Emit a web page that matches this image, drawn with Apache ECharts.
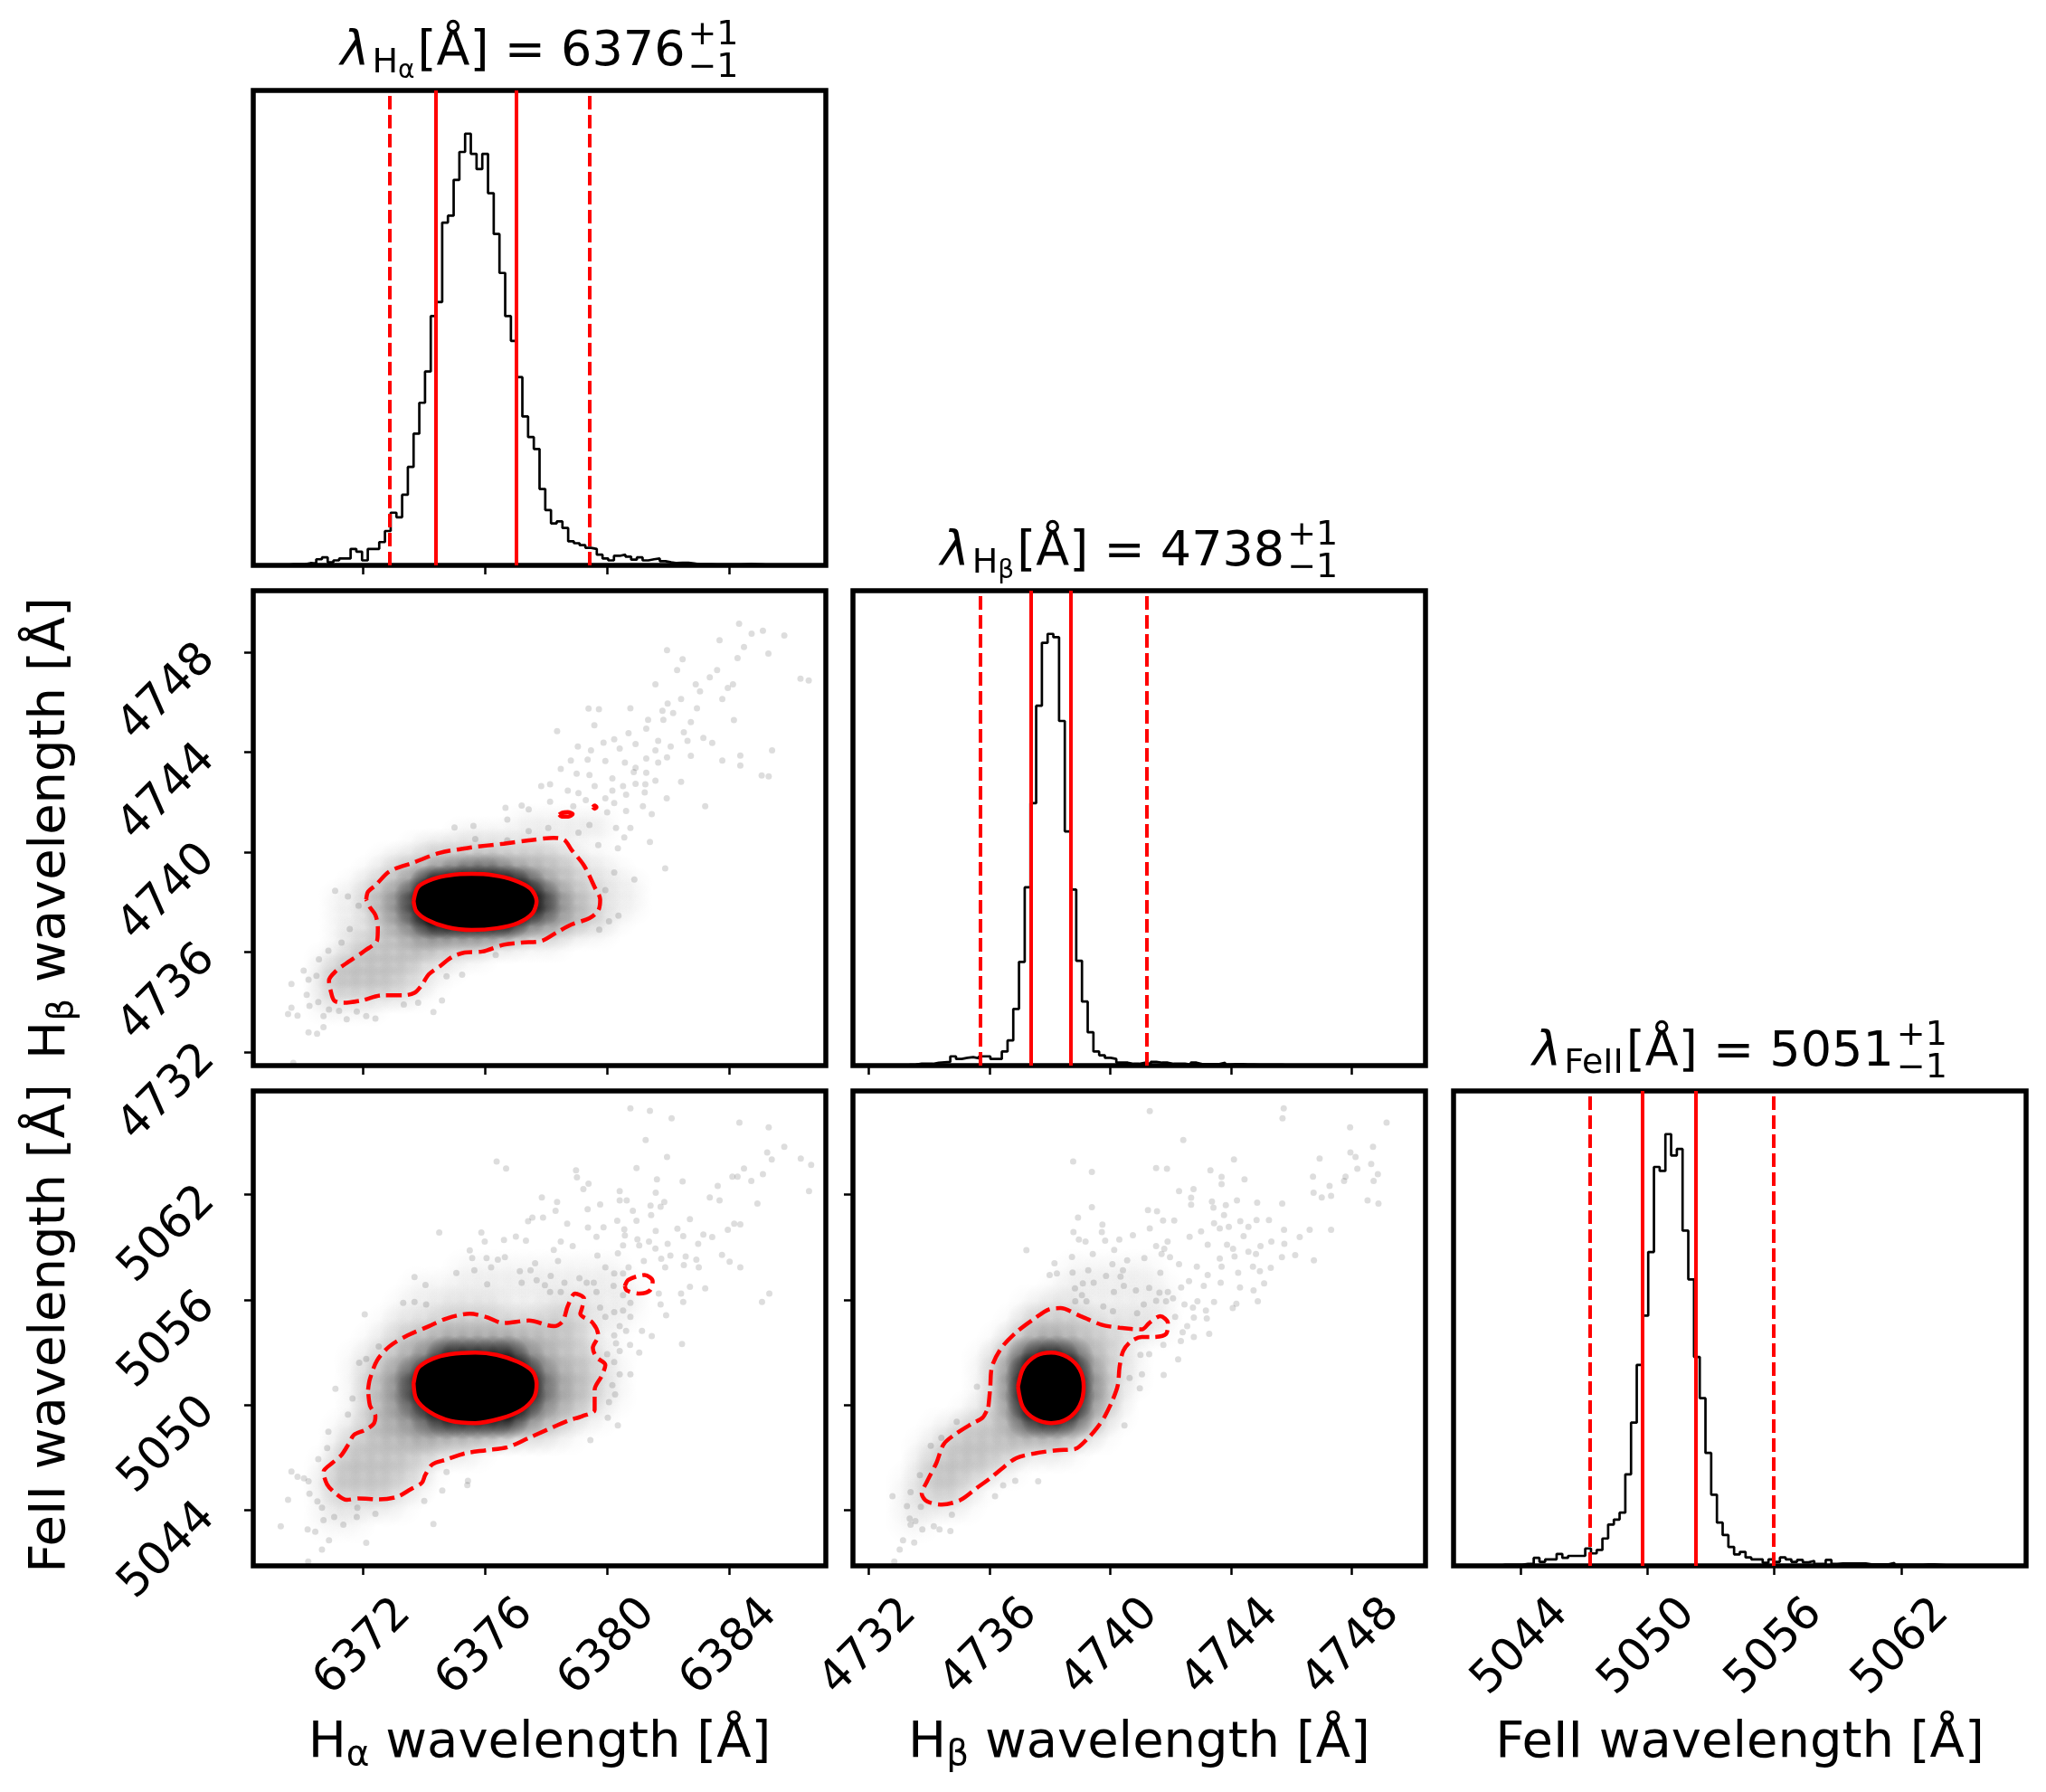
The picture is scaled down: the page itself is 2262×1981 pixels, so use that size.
<!DOCTYPE html>
<html>
<head>
<meta charset="utf-8">
<title>corner plot</title>
<script src="https://cdn.jsdelivr.net/npm/echarts@6.0.0/dist/echarts.min.js"></script>
<style>
  html, body { margin: 0; padding: 0; background: #fff; }
  #chart { width: 2262px; height: 1981px; }
</style>
</head>
<body>
<div id="chart"></div>
<script>
// axis ranges (min / max of the samples) and tick values
const haRange = [6368.4, 6387.15];
const hbRange = [4731.47, 4750.45];
const feRange = [5040.83, 5067.9];
const haTicks = [6372, 6376, 6380, 6384];
const hbTicks = [4732, 4736, 4740, 4744, 4748];
const feTicks = [5044, 5050, 5056, 5062];

// 1D histograms, 100 bins over the axis range
const haHist = [0,0,0,1,1,1,3,3,3,6, 5,16,21,8,13,18,18,43,36,13, 43,43,61,90,138,126,185,258,345,426,
  508,653,690,898,916,1010,1083,1131,1078,1038, 1078,975,868,766,653,588,493,390,336,305,
  200,145,110,115,98,63,58,53,46,43, 28,18,13,25,28,23,15,21,13,16, 18,11,8,6,7,7,5,3,3,3,
  2,2,2,2,2,3,4,3,2,1, 1,1,0,0,0,0,0,0,0,0];
const hbHist = [0,0,0,0,0,0,0,0,0,2, 3,5,5,5,8,9,10,25,18,21, 23,20,25,25,18,18,38,68,153,280,
  481,708,971,1141,1165,1156,930,632,475,283, 173,90,38,28,21,18,8,8,5,5,
  8,5,10,8,8,5,5,5,3,8, 4,4,4,4,8,3,4,4,3,3, 2,2,2,2,2,1,1,1,0,0,
  0,0,0,0,0,0,0,0,0,0, 0,0,0,0,0,0,0,0,0,0];
const feHist = [0,0,0,0,0,0,0,0,2,2, 2,2,4,4,16,8,13,13,24,16, 20,20,20,35,25,32,55,83,93,107,
  184,288,404,503,631,802,794,868,825,838, 674,576,420,337,227,143,87,62,38,23,
  28,17,13,13,6,13,8,17,13,8, 12,7,10,4,4,12,4,5,5,5, 5,5,3,3,3,3,6,2,2,2,
  2,2,3,3,2,1,1,1,0,0, 0,0,0,0,0,0,0,0,0,0];

// quantile lines: outer dashed, inner solid
const haQuant = [6372.88, 6374.39, 6377.0, 6379.4];
const hbQuant = [4735.69, 4737.38, 4738.70, 4741.20];
const feQuant = [5047.29, 5049.76, 5052.30, 5055.95];
const quantDashed = [true, false, false, true];

// title values
const haTitle = ['6376', '+1', '\u22121'];
const hbTitle = ['4738', '+1', '\u22121'];
const feTitle = ['5051', '+1', '\u22121'];

// density of samples, level 0-9 per cell (cell centres below)
const haCells = [6370.75,6371.25,6371.75,6372.25,6372.75,6373.25,6373.75,6374.25,6374.75,6375.25,6375.75,
  6376.25,6376.75,6377.25,6377.75,6378.25,6378.75,6379.25,6379.75,6380.25,6380.75];
const hbCells = [4733.25,4733.75,4734.25,4734.75,4735.25,4735.75,4736.25,4736.75,4737.25,4737.75,4738.25,
  4738.75,4739.25,4739.75,4740.25,4740.75,4741.25,4741.75];
const hbRows = [4741.25,4740.75,4740.25,4739.75,4739.25,4738.75,4738.25,4737.75,4737.25,4736.75,4736.25,
  4735.75,4735.25,4734.75,4734.25,4733.75];
const feRows = [5057.5,5056.5,5055.5,5054.5,5053.5,5052.5,5051.5,5050.5,5049.5,5048.5,5047.5,5046.5,5045.5,5044.5,5043.5];

const haHbDens = [
  "000000000000011111100",
  "000000000111111111100",
  "000000122222222110000",
  "000012233344333321100",
  "000123456777654332110",
  "001234699999986432211",
  "011346899999998643211",
  "011346899999998643211",
  "011245799999976543210",
  "012234566666543321100",
  "012333443332211100000",
  "123333322110000000000",
  "233333211000000000000",
  "233332210000000000000",
  "222222100000000000000",
  "111100000000000000000"
];
const haFeDens = [
  "000000000111111111110",
  "000000111111111111111",
  "000001112222111222111",
  "000012233333333332110",
  "000123445555544332100",
  "001234579999975433210",
  "001346899999997543210",
  "001346899999997543210",
  "001345689999975432100",
  "012344555555433210000",
  "023333332210000000000",
  "133333210000000000000",
  "233332200000000000000",
  "122221000000000000000",
  "111000000000000000000"
];
const hbFeDens = [
  "000000000001111110",
  "000000000011111111",
  "000000001222111111",
  "000000013333322221",
  "000000134554332100",
  "000001358998532100",
  "000001369999642100",
  "000001369999642000",
  "000012358998531000",
  "001233345554310000",
  "012333332221000000",
  "023333210000000000",
  "123321000000000000",
  "122210000000000000",
  "110000000000000000"
];

// isolated samples outside the dense core
const haHbDots = [[6384.31,4749.13],[6384.72,4748.73],[6385.09,4748.85],[6385.79,4748.66],[6383.67,4748.47],[6385.27,4747.94],
  [6381.95,4748.07],[6382.46,4747.71],[6384.47,4748.2],[6384.26,4747.76],[6383.59,4747.28],[6382.28,4747.28],[6383.35,4746.99],
  [6386.32,4746.93],[6386.59,4746.86],[6384.11,4746.71],[6383.94,4746.56],[6381.57,4746.71],[6382.89,4746.71],[6383.03,4746.43],
  [6382.41,4746.12],[6383.76,4746.12],[6381.97,4745.94],[6381.8,4745.65],[6382.15,4745.56],[6382.93,4745.75],[6379.38,4745.74],
  [6379.72,4745.71],[6380.75,4745.75],[6381.33,4745.29],[6381.83,4745.29],[6382.73,4745.2],[6384.14,4745.28],[6379.57,4745.07],
  [6380.69,4744.76],[6381.27,4744.94],[6381.66,4744.45],[6382.07,4744.22],[6382.5,4744.79],[6382.62,4744.45],[6383.14,4744.57],
  [6383.43,4744.37],[6378.35,4744.84],[6380.22,4744.51],[6379.87,4744.38],[6380.92,4744.32],[6379.03,4744.22],[6379.46,4744.07],
  [6380.4,4744.14],[6381.57,4744.07],[6381.95,4743.79],[6382.73,4743.85],[6383.76,4743.66],[6384.35,4743.86],[6384.35,4743.46],
  [6385.39,4744.07],[6385.05,4743.07],[6385.28,4743.03],[6378.8,4743.66],[6379.35,4743.7],[6379.93,4743.64],[6380.57,4743.58],
  [6380.92,4743.37],[6381.27,4743.74],[6381.66,4743.58],[6381.27,4743.17],[6381.57,4742.86],[6378.47,4743.33],[6378.99,4743.14],
  [6379.41,4743.08],[6380.16,4742.95],[6380.51,4742.64],[6380.86,4743.2],[6380.92,4742.73],[6381.24,4742.71],[6381.22,4742.39],
  [6378.12,4742.71],[6377.83,4742.64],[6378.7,4742.46],[6379.05,4742.36],[6379.58,4742.64],[6380.16,4742.46],[6380.61,4742.3],
  [6381.94,4742.15],[6382.41,4742.81],[6383.2,4741.84],[6377.42,4741.71],[6377.19,4741.86],[6376.66,4741.77],[6376.72,4741.3],
  [6378.12,4742.02],[6378.88,4741.84],[6379.29,4742.08],[6379.93,4742.15],[6380.22,4741.96],[6379.99,4741.59],[6380.61,4741.65],
  [6381.16,4741.84],[6381.45,4741.52],[6380.75,4740.97],[6380.28,4740.97],[6380.55,4740.59],[6381.39,4740.41],[6380.34,4740.16],
  [6379.7,4740.28],[6379.05,4740.78],[6379.41,4741.09],[6378.06,4740.97],[6377.42,4740.84],[6376.72,4740.47],[6375.61,4741.05],
  [6374.99,4740.99],[6375.67,4740.53],[6381.89,4739.35],[6380.88,4738.91],[6380.22,4739.19],[6379.93,4738.48],[6380.36,4737.46],
  [6380.05,4737.24],[6379.73,4736.9],[6371.08,4738.46],[6371.5,4738.23],[6371.85,4737.86],[6371.56,4736.93],[6371.29,4736.39],
  [6370.86,4736.06],[6370.55,4735.72],[6370.05,4735.27],[6370.47,4735.06],[6370.21,4734.9],[6369.65,4734.73],[6370.15,4734.3],
  [6370.53,4734.01],[6370.24,4733.86],[6369.65,4733.78],[6369.54,4733.53],[6369.85,4733.47],[6370.7,4733.45],[6370.88,4733.71],
  [6371.21,4733.66],[6371.46,4733.32],[6371.79,4733.63],[6372.1,4733.45],[6372.4,4733.35],[6370.7,4733.01],[6370.49,4732.74],
  [6370.21,4732.8],[6369.71,4731.58],[6374.3,4733.61],[6374.58,4734.07],[6373.8,4733.98],[6373.33,4733.91],[6374.73,4735.04],
  [6375.24,4735.1],[6376.34,4735.89]];

const haFeDots = [[6380.75,5066.91],[6381.39,5066.77],[6382.1,5066.34],[6384.32,5066.1],[6385.28,5065.83],[6381.25,5065.1],
  [6385.79,5064.72],[6385.23,5064.4],[6381.95,5064.13],[6385.38,5063.99],[6386.33,5064.04],[6386.67,5063.69],[6376.37,5063.88],
  [6376.68,5063.48],[6378.97,5063.37],[6379.0,5062.98],[6380.95,5063.51],[6384.47,5063.48],[6381.62,5062.86],[6384.09,5063.02],
  [6384.26,5063.02],[6385.09,5063.16],[6382.46,5062.75],[6384.71,5062.77],[6383.61,5062.49],[6379.38,5062.61],[6379.21,5062.31],
  [6386.6,5062.19],[6380.4,5062.19],[6381.58,5062.1],[6377.85,5061.83],[6378.35,5061.57],[6379.76,5061.43],[6379.35,5061.16],
  [6380.4,5061.66],[6380.63,5061.66],[6381.41,5061.37],[6381.86,5061.57],[6381.74,5061.3],[6383.35,5061.83],[6383.67,5061.66],
  [6384.91,5061.48],[6378.3,5061.07],[6377.54,5060.68],[6377.4,5060.47],[6377.89,5060.68],[6378.68,5060.33],[6379.36,5060.12],
  [6379.87,5060.13],[6380.32,5060.5],[6380.83,5061.07],[6380.95,5060.5],[6381.43,5060.82],[6382.7,5060.59],[6384.15,5060.33],
  [6384.35,5060.29],[6383.94,5059.98],[6382.29,5060.05],[6381.58,5059.92],[6380.55,5060.01],[6374.49,5059.83],[6375.87,5059.83],
  [6375.98,5059.32],[6376.61,5059.41],[6377.0,5059.6],[6377.33,5059.37],[6378.47,5059.32],[6378.86,5059.06],[6379.64,5059.59],
  [6380.57,5059.66],[6380.98,5059.44],[6382.48,5059.62],[6383.14,5059.71],[6383.43,5059.57],[6381.36,5059.32],[6381.04,5059.09],
  [6381.57,5058.91],[6381.97,5059.18],[6382.97,5059.18],[6383.75,5058.56],[6384.0,5058.17],[6384.35,5057.84],[6382.91,5058.29],
  [6382.56,5058.47],[6382.06,5058.51],[6378.24,5058.84],[6375.49,5058.81],[6375.57,5058.38],[6376.04,5058.38],[6376.41,5058.29],
  [6376.64,5058.42],[6377.63,5058.08],[6378.38,5058.21],[6379.67,5058.51],[6380.34,5058.65],[6380.51,5059.09],[6381.19,5058.21],
  [6381.76,5058.33],[6381.89,5057.85],[6380.69,5057.85],[6379.93,5057.85],[6382.5,5057.98],[6382.99,5057.85],[6385.3,5056.35],
  [6385.06,5055.87],[6383.2,5056.65],[6382.7,5056.74],[6382.41,5056.35],[6381.68,5056.35],[6381.92,5055.11],[6381.74,5055.73],
  [6382.48,5055.87],[6381.45,5053.93],[6382.44,5053.47],[6375.05,5057.52],[6375.64,5057.68],[6376.19,5057.85],[6377.13,5057.62],
  [6377.48,5057.68],[6378.14,5057.36],[6378.59,5056.97],[6379.08,5057.23],[6379.32,5056.97],[6379.55,5056.97],[6373.68,5057.29],
  [6374.04,5056.84],[6376.06,5056.88],[6377.19,5056.97],[6377.68,5057.11],[6377.95,5056.83],[6378.12,5056.44],[6378.47,5056.44],
  [6379.64,5056.44],[6380.22,5057.5],[6380.51,5057.5],[6380.2,5056.79],[6380.51,5056.26],[6380.75,5055.82],[6379.76,5055.55],
  [6379.93,5055.02],[6380.22,5055.29],[6380.51,5055.38],[6380.75,5055.02],[6380.4,5054.49],[6380.61,5054.22],[6381.13,5054.22],
  [6380.22,5053.96],[6380.28,5053.52],[6380.74,5053.43],[6379.99,5052.9],[6380.4,5053.08],[6381.04,5052.99],[6380.22,5052.45],
  [6380.4,5051.75],[6380.75,5051.75],[6380.16,5051.13],[6380.25,5050.6],[6380.05,5050.16],[6380.01,5049.27],[6380.34,5048.83],
  [6379.44,5048.0],[6373.31,5055.82],[6373.68,5055.87],[6374.06,5055.73],[6372.05,5055.16],[6372.51,5053.34],[6371.87,5052.4],
  [6372.1,5052.63],[6371.09,5050.92],[6371.65,5050.37],[6371.5,5049.45],[6370.86,5048.48],[6370.82,5047.54],[6370.53,5046.92],
  [6369.65,5046.21],[6369.85,5045.91],[6370.06,5045.82],[6370.21,5045.65],[6370.24,5044.94],[6370.5,5044.5],[6370.65,5044.14],
  [6369.54,5044.59],[6369.3,5043.08],[6370.18,5042.91],[6370.43,5042.78],[6370.7,5043.44],[6371.05,5043.61],[6371.35,5043.17],
  [6371.79,5043.61],[6371.81,5044.14],[6372.4,5043.79],[6370.65,5041.76],[6370.88,5042.29],[6372.1,5042.14],[6370.2,5041.08],
  [6374.3,5043.21],[6374.0,5044.53],[6374.59,5045.12],[6375.43,5045.68],[6375.41,5045.43],[6374.73,5046.18]];

const hbFeDots = [[4741.31,5066.75],[4745.75,5066.91],[4745.71,5066.34],[4749.16,5066.1],[4747.95,5065.83],[4742.42,5065.1],
  [4748.71,5064.72],[4747.96,5064.4],[4748.13,5064.13],[4746.94,5064.04],[4738.77,5063.88],[4741.52,5063.51],[4741.88,5063.46],
  [4744.1,5063.99],[4739.39,5063.28],[4743.32,5063.37],[4743.69,5063.0],[4744.45,5062.86],[4743.69,5062.59],[4748.65,5063.73],
  [4748.19,5063.46],[4748.87,5063.16],[4748.73,5062.77],[4747.8,5063.02],[4747.75,5062.77],[4747.27,5062.49],[4746.72,5063.02],
  [4746.74,5062.1],[4747.01,5061.83],[4747.32,5061.92],[4742.28,5062.19],[4742.76,5062.31],[4742.68,5061.81],[4742.68,5061.41],
  [4743.37,5061.6],[4743.83,5061.39],[4743.77,5060.82],[4744.2,5061.66],[4744.87,5061.53],[4745.7,5061.48],[4748.53,5061.66],
  [4748.89,5061.48],[4739.39,5061.27],[4738.93,5060.68],[4741.25,5061.11],[4741.55,5061.04],[4741.75,5060.51],[4742.12,5060.51],
  [4743.42,5061.25],[4743.44,5060.36],[4743.63,5060.06],[4743.93,5060.15],[4744.31,5060.47],[4744.58,5060.15],[4744.85,5060.54],
  [4745.26,5060.54],[4745.76,5059.98],[4747.32,5059.98],[4746.28,5059.57],[4746.61,5059.98],[4739.74,5060.28],[4739.72,5059.85],
  [4740.75,5059.67],[4741.31,5060.06],[4738.78,5059.85],[4738.96,5059.43],[4739.18,5059.32],[4739.83,5059.37],[4740.3,5059.43],
  [4741.9,5059.32],[4742.63,5059.59],[4743.01,5059.89],[4743.23,5059.13],[4743.87,5059.13],[4744.07,5058.9],[4744.42,5059.62],
  [4744.58,5058.74],[4744.98,5059.06],[4745.34,5059.32],[4745.77,5059.18],[4746.13,5058.54],[4746.75,5058.24],[4745.69,5058.42],
  [4737.22,5058.82],[4740.13,5058.84],[4741.52,5059.06],[4741.79,5058.9],[4741.7,5058.6],[4741.98,5058.42],[4741.13,5058.37],
  [4740.56,5058.24],[4740.07,5058.03],[4738.73,5058.44],[4739.42,5058.61],[4738.15,5058.08],[4738.23,5057.5],[4737.99,5057.41],
  [4738.75,5057.55],[4739.27,5057.68],[4739.86,5057.36],[4740.42,5057.68],[4740.34,5057.32],[4741.66,5057.53],[4742.28,5058.03],
  [4742.87,5057.89],[4743.23,5057.41],[4743.63,5058.35],[4744.12,5058.47],[4743.69,5057.89],[4744.24,5057.53],[4744.73,5057.89],
  [4744.96,5057.62],[4745.32,5057.82],[4744.83,5058.61],[4739.09,5056.93],[4739.45,5056.97],[4738.83,5056.65],[4739.06,5056.26],
  [4738.84,5055.91],[4739.21,5055.91],[4740.45,5056.79],[4740.12,5056.44],[4740.85,5056.53],[4741.29,5056.67],[4741.63,5056.4],
  [4741.91,5056.44],[4742.35,5056.7],[4742.61,5057.06],[4743.1,5056.79],[4743.66,5056.97],[4744.3,5056.7],[4744.75,5056.53],
  [4745.1,5056.93],[4744.89,5055.91],[4744.18,5055.77],[4744.06,5055.52],[4743.17,5055.38],[4743.44,5055.87],[4742.89,5055.91],
  [4742.74,5055.55],[4742.46,5055.73],[4742.08,5056.08],[4741.85,5055.91],[4741.52,5055.94],[4741.11,5055.73],[4740.89,5055.23],
  [4740.09,5055.34],[4739.77,5055.62],[4742.15,5055.02],[4742.77,5054.99],[4743.2,5054.93],[4742.55,5054.49],[4742.4,5054.14],
  [4742.77,5053.87],[4743.28,5054.05],[4742.34,5053.64],[4741.76,5053.43],[4741.29,5052.9],[4741.0,5052.86],[4742.25,5052.6],
  [4740.64,5051.54],[4741.05,5051.75],[4741.77,5051.71],[4740.98,5050.95],[4740.47,5048.83],[4735.58,5051.04],[4734.91,5049.04],
  [4734.4,5048.12],[4734.05,5047.68],[4733.69,5046.0],[4733.38,5045.03],[4732.78,5044.8],[4733.26,5044.23],[4733.72,5044.2],
  [4733.35,5043.53],[4733.54,5043.38],[4733.38,5043.17],[4733.77,5042.91],[4734.15,5043.08],[4734.34,5042.91],[4734.7,5042.82],
  [4734.75,5043.74],[4733.13,5042.29],[4733.5,5042.16],[4733.02,5041.76],[4732.84,5041.08],[4736.18,5044.8],[4736.45,5045.42],
  [4736.85,5045.68],[4737.61,5045.65]];

// contour levels
const haHbInner = [[6373.65,4738.05],[6373.8,4738.61],[6374.27,4738.92],[6374.85,4739.08],[6375.55,4739.13],[6376.25,4739.08],
  [6376.95,4738.88],[6377.48,4738.54],[6377.68,4738.05],[6377.54,4737.55],[6377.07,4737.17],[6376.37,4736.96],[6375.55,4736.89],
  [6374.73,4737.01],[6374.09,4737.3],[6373.74,4737.64],[6373.65,4738.05]];
const haHbOuter = [[6372.1,4738.11],[6372.16,4738.42],[6372.4,4738.67],[6372.86,4739.23],[6373.68,4739.6],[6374.5,4739.97],
  [6375.55,4740.19],[6376.6,4740.34],[6377.42,4740.47],[6378.24,4740.57],[6378.59,4740.49],[6378.82,4740.1],[6379.23,4739.47],
  [6379.58,4738.6],[6379.76,4738.11],[6379.7,4737.67],[6379.41,4737.36],[6378.82,4737.11],[6378.35,4736.8],[6377.83,4736.45],
  [6377.19,4736.39],[6376.6,4736.3],[6375.9,4736.03],[6375.32,4735.99],[6374.91,4735.81],[6374.5,4735.43],[6374.15,4735.12],
  [6373.92,4734.69],[6373.68,4734.38],[6373.33,4734.28],[6372.63,4734.28],[6371.93,4734.07],[6371.35,4733.98],[6371.05,4734.07],
  [6370.94,4734.44],[6370.88,4734.87],[6371.11,4735.25],[6371.52,4735.62],[6372.05,4736.06],[6372.46,4736.49],[6372.48,4736.99],
  [6372.4,4737.49],[6372.22,4737.8],[6372.1,4738.11]];
const haHbIsle1 = [[6378.42,4741.5],[6378.52,4741.58],[6378.7,4741.6],[6378.86,4741.52],[6378.72,4741.42],[6378.5,4741.42],[6378.42,4741.5]];
const haHbIsle2 = [[6379.52,4741.8],[6379.58,4741.86],[6379.64,4741.8],[6379.58,4741.74],[6379.52,4741.8]];

const haFeInner = [[6373.65,5051.22],[6373.8,5052.1],[6374.27,5052.63],[6374.85,5052.9],[6375.67,5052.99],[6376.37,5052.86],
  [6377.07,5052.46],[6377.54,5051.93],[6377.68,5051.22],[6377.59,5050.42],[6377.19,5049.72],[6376.48,5049.22],[6375.67,5048.97],
  [6374.85,5049.1],[6374.15,5049.63],[6373.74,5050.34],[6373.65,5051.22]];
const haFeOuter = [[6372.16,5050.87],[6372.22,5051.48],[6372.46,5052.55],[6372.86,5053.34],[6373.45,5053.96],[6374.15,5054.49],
  [6374.73,5054.93],[6375.49,5055.2],[6376.02,5055.02],[6376.6,5054.67],[6377.42,5054.81],[6378.24,5054.49],[6378.53,5054.76],
  [6378.7,5055.64],[6378.94,5056.35],[6379.23,5056.08],[6379.17,5055.55],[6379.11,5055.2],[6379.52,5054.67],[6379.7,5053.96],
  [6379.52,5053.25],[6379.64,5052.72],[6379.93,5052.28],[6379.81,5051.66],[6379.58,5050.87],[6379.58,5049.72],[6379.17,5049.36],
  [6378.7,5049.1],[6378.0,5048.57],[6377.42,5048.12],[6376.72,5047.59],[6376.02,5047.42],[6375.32,5047.24],[6374.73,5046.89],
  [6374.27,5046.62],[6374.03,5046.0],[6373.92,5045.56],[6373.56,5045.2],[6373.1,5044.76],[6372.51,5044.62],[6371.87,5044.67],
  [6371.46,5044.59],[6371.11,5044.94],[6370.82,5045.47],[6370.7,5046.18],[6371.0,5046.71],[6371.29,5047.15],[6371.52,5047.77],
  [6371.7,5048.3],[6372.05,5048.57],[6372.34,5048.92],[6372.4,5049.36],[6372.22,5049.98],[6372.16,5050.87]];
const haFeIsle = [[6380.57,5056.79],[6380.69,5057.14],[6381.22,5057.41],[6381.48,5057.06],[6381.39,5056.53],[6381.04,5056.35],
  [6380.63,5056.53],[6380.57,5056.79]];

const hbFeInner = [[4736.94,5051.04],[4737.12,5052.1],[4737.55,5052.81],[4738.04,5052.99],[4738.59,5052.72],[4738.99,5052.02],
  [4739.12,5051.04],[4738.99,5049.98],[4738.59,5049.22],[4738.04,5048.97],[4737.49,5049.22],[4737.1,5049.89],[4736.94,5051.04]];
const hbFeOuter = [[4735.96,5049.89],[4736.02,5050.95],[4736.08,5052.19],[4736.39,5053.25],[4736.88,5054.14],[4737.49,5054.93],
  [4737.98,5055.46],[4738.35,5055.52],[4738.96,5055.11],[4739.7,5054.58],[4740.31,5054.4],[4741.05,5054.31],[4741.29,5054.67],
  [4741.66,5055.06],[4741.91,5054.67],[4741.85,5054.05],[4741.42,5053.87],[4741.05,5053.87],[4740.68,5053.61],[4740.43,5053.08],
  [4740.31,5052.19],[4740.25,5051.13],[4740.07,5050.25],[4739.82,5049.36],[4739.58,5048.74],[4739.27,5048.12],[4738.84,5047.5],
  [4738.23,5047.42],[4737.49,5047.24],[4736.88,5046.97],[4736.39,5046.35],[4736.02,5045.82],[4735.59,5045.29],[4735.04,5044.59],
  [4734.42,5044.32],[4733.93,5044.5],[4733.75,5044.94],[4733.93,5045.65],[4734.24,5046.71],[4734.48,5047.77],[4734.91,5048.39],
  [4735.4,5048.92],[4735.77,5049.28],[4735.96,5049.89]];

// layout
const colLeft = [280, 943, 1607];
const rowTop = [100, 653, 1206];
const cellW = 633, cellH = 525;
const panels = [[0, 0], [1, 0], [1, 1], [2, 0], [2, 1], [2, 2]]; // [row, col]
const font = 'DejaVu Sans';
const red = '#ff0000';
const dash = [15, 6];
// peak alpha of one soft blob per density level
const blobPeak = [0, 0.03, 0.065, 0.11, 0.15, 0.21, 0.29, 0.42, 0.62, 0.9];
const blobFill = { type: 'radial', x: 0.5, y: 0.5, r: 0.5, colorStops: [
  { offset: 0, color: 'rgba(0,0,0,1)' }, { offset: 0.5, color: 'rgba(0,0,0,0.5)' }, { offset: 1, color: 'rgba(0,0,0,0)' }] };

const grids = panels.map(([r, c]) => ({
  left: colLeft[c], top: rowTop[r], width: cellW, height: cellH,
  show: true, borderColor: '#000', borderWidth: 5.5, backgroundColor: 'transparent',
  outerBoundsMode: 'none'
}));

function valueAxis(idx, range, ticks, labels, isY) {
  const label = { show: labels, customValues: ticks, rotate: 45, fontSize: 50, fontFamily: font, color: '#000',
    formatter: v => String(v) };
  if (isY) label.margin = 50;
  else Object.assign(label, { align: 'center', verticalAlign: 'middle', margin: 90 });
  return {
    type: 'value', gridIndex: idx, min: range[0], max: range[1],
    axisLine: { show: false, onZero: false },
    splitLine: { show: false },
    axisTick: { show: true, customValues: ticks, length: 10, lineStyle: { color: '#000', width: 2.5 } },
    axisLabel: label
  };
}
function countAxis(idx) {
  return { type: 'value', gridIndex: idx, min: 0, max: v => v.max * 1.1, show: false, splitLine: { show: false } };
}

const xAxes = [
  valueAxis(0, haRange, haTicks, false),
  valueAxis(1, haRange, haTicks, false),
  valueAxis(2, hbRange, hbTicks, false),
  valueAxis(3, haRange, haTicks, true),
  valueAxis(4, hbRange, hbTicks, true),
  valueAxis(5, feRange, feTicks, true)
];
const yAxes = [
  countAxis(0),
  valueAxis(1, hbRange, hbTicks, true, true),
  countAxis(2),
  valueAxis(3, feRange, feTicks, true, true),
  valueAxis(4, feRange, feTicks, false, true),
  countAxis(5)
];

function histSeries(idx, range, counts, quant) {
  const w = (range[1] - range[0]) / counts.length;
  const pts = counts.map((c, i) => [range[0] + i * w, c]);
  pts.push([range[1], counts[counts.length - 1]]);
  return {
    type: 'line', xAxisIndex: idx, yAxisIndex: idx, data: pts, step: 'end',
    showSymbol: false, symbol: 'none', z: 3,
    lineStyle: { color: '#000', width: 2.7 },
    markLine: {
      silent: true, symbol: ['none', 'none'], label: { show: false },
      data: quant.map((v, i) => ({ xAxis: v, lineStyle: { color: red, width: 4, type: quantDashed[i] ? dash : 'solid' } }))
    }
  };
}

function densitySeries(idx, cols, rows, levels, size) {
  const data = [];
  rows.forEach((y, r) => {
    cols.forEach((x, c) => {
      const lv = +levels[r][c];
      if (lv > 0) data.push({ value: [x, y], itemStyle: { opacity: blobPeak[lv] } });
    });
  });
  return { type: 'scatter', xAxisIndex: idx, yAxisIndex: idx, data: data, symbol: 'circle',
    symbolSize: size, itemStyle: { color: blobFill }, z: 1, silent: true };
}

// the inside of the inner contour is saturated black
function coreSeries(idx, pts) {
  return { type: 'custom', xAxisIndex: idx, yAxisIndex: idx, data: [0], z: 2, silent: true,
    renderItem: (params, api) => ({ type: 'polygon',
      shape: { points: pts.map(p => api.coord(p)), smooth: 0.3 }, style: { fill: '#000' } }) };
}

function dotSeries(idx, pts) {
  return { type: 'scatter', xAxisIndex: idx, yAxisIndex: idx, data: pts, symbolSize: 7,
    itemStyle: { color: 'rgba(0,0,0,0.17)' }, z: 2, silent: true };
}

function contourSeries(idx, pts, dashed) {
  return { type: 'line', xAxisIndex: idx, yAxisIndex: idx, data: pts, smooth: 0.3, symbol: 'none',
    showSymbol: false, z: 4, silent: true,
    lineStyle: { color: red, width: 4.5, type: dashed ? [17, 7] : 'solid' } };
}

// math-like labels built from text pieces
const measure = document.createElement('canvas').getContext('2d');
function textWidth(t, size, italic) {
  measure.font = (italic ? 'italic ' : '') + size + 'px "' + font + '"';
  return measure.measureText(t).width;
}
function piece(p, x) {
  return { type: 'text', x: x, y: (p.dy || 0) - 0.3 * p.size,
    style: { text: p.t, fontSize: p.size, fontFamily: font, fontStyle: p.italic ? 'italic' : 'normal',
      fill: '#000', align: 'left', verticalAlign: 'middle' } };
}
function mathLabel(parts, cx, baseline, rotation) {
  let w = 0;
  const kids = [];
  parts.forEach(p => {
    w += p.dx || 0;
    if (p.stack) {
      let mw = 0;
      p.stack.forEach(s => { kids.push(piece(s, w)); mw = Math.max(mw, textWidth(s.t, s.size)); });
      w += mw;
    } else {
      kids.push(piece(p, w));
      w += textWidth(p.t, p.size, p.italic);
    }
  });
  kids.forEach(k => { k.x -= w / 2; });
  return { type: 'group', x: cx, y: baseline, rotation: rotation || 0, silent: true, children: kids };
}
function title(sub, subsub, vals) {
  const parts = [{ t: '\u03bb', size: 54, italic: true }, { t: sub, size: 38, dy: 8, dx: 3 }];
  if (subsub) parts.push({ t: subsub, size: 28, dy: 13 });
  parts.push({ t: '[\u00c5] = ' + vals[0], size: 54, dx: 3 });
  parts.push({ stack: [{ t: vals[1], size: 38, dy: -23 }, { t: vals[2], size: 38, dy: 13 }], dx: 3 });
  return parts;
}
function axisName(main, sub) {
  const parts = [{ t: main, size: 56 }];
  if (sub) parts.push({ t: sub, size: 39, dy: 9 }, { t: ' wavelength [\u00c5]', size: 56 });
  else parts[0].t = main + ' wavelength [\u00c5]';
  return parts;
}
const colMid = colLeft.map(l => l + cellW / 2);
const rowMid = rowTop.map(t => t + cellH / 2);

const graphics = [
  mathLabel(title('H', '\u03b1', haTitle), colMid[0], rowTop[0] - 26),
  mathLabel(title('H', '\u03b2', hbTitle), colMid[1], rowTop[1] - 26),
  mathLabel(title('FeII', null, feTitle), colMid[2], rowTop[2] - 26),
  mathLabel(axisName('H', '\u03b1'), colMid[0], 1944),
  mathLabel(axisName('H', '\u03b2'), colMid[1], 1944),
  mathLabel(axisName('FeII'), colMid[2], 1944),
  mathLabel(axisName('H', '\u03b2'), 73, rowMid[1], Math.PI / 2),
  mathLabel(axisName('FeII'), 73, rowMid[2], Math.PI / 2)
];

const chart = echarts.init(document.getElementById('chart'));
chart.setOption({
  animation: false,
  backgroundColor: '#fff',
  grid: grids,
  xAxis: xAxes,
  yAxis: yAxes,
  graphic: graphics,
  series: [
    histSeries(0, haRange, haHist, haQuant),
    densitySeries(1, haCells, hbRows, haHbDens, [51, 42]),
    dotSeries(1, haHbDots),
    coreSeries(1, haHbInner),
    contourSeries(1, haHbInner, false),
    contourSeries(1, haHbOuter, true),
    contourSeries(1, haHbIsle1, false),
    contourSeries(1, haHbIsle2, false),
    histSeries(2, hbRange, hbHist, hbQuant),
    densitySeries(3, haCells, feRows, haFeDens, [51, 58]),
    dotSeries(3, haFeDots),
    coreSeries(3, haFeInner),
    contourSeries(3, haFeInner, false),
    contourSeries(3, haFeOuter, true),
    contourSeries(3, haFeIsle, true),
    densitySeries(4, hbCells, feRows, hbFeDens, [50, 58]),
    dotSeries(4, hbFeDots),
    coreSeries(4, hbFeInner),
    contourSeries(4, hbFeInner, false),
    contourSeries(4, hbFeOuter, true),
    histSeries(5, feRange, feHist, feQuant)
  ]
});
</script>
</body>
</html>
